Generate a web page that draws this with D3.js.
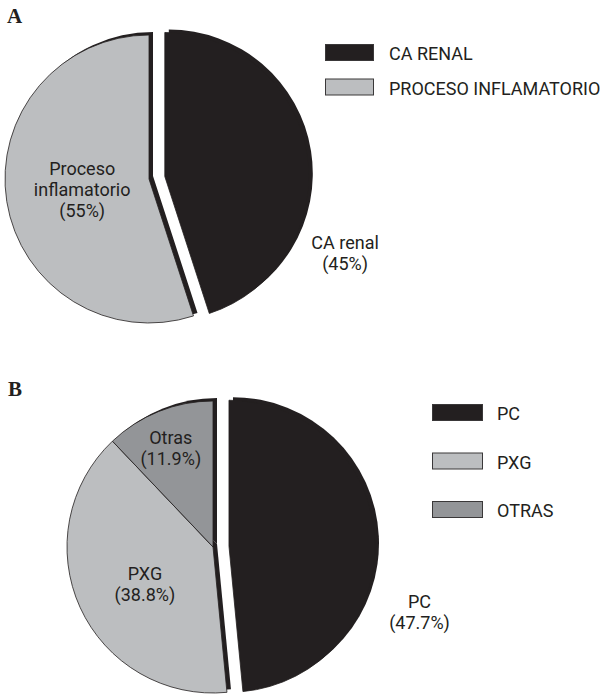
<!DOCTYPE html>
<html>
<head>
<meta charset="utf-8">
<script src="https://cdn.jsdelivr.net/npm/d3@7"></script>
<style>
  html, body { margin: 0; padding: 0; background: #fff; }
  svg { display: block; }
  text { font-family: Roboto, "Liberation Sans", sans-serif; fill: #231f20; }
</style>
</head>
<body>
<script>
// Panel A: diagnosis
const categoriesA = ["CA renal", "Proceso inflamatorio"];
const valuesA = [45, 55];
const legendA = ["CA RENAL", "PROCESO INFLAMATORIO"];
const labelsA = [["CA renal", "(45%)"], ["Proceso", "inflamatorio", "(55%)"]];

// Panel B: type of inflammatory process
const categoriesB = ["PC", "PXG", "Otras"];
const valuesB = [47.7, 38.8, 11.9];
const legendB = ["PC", "PXG", "OTRAS"];
const labelsB = [["PC", "(47.7%)"], ["PXG", "(38.8%)"], ["Otras", "(11.9%)"]];

const W = 606, H = 697;
const svg = d3.select("body").append("svg").attr("width", W).attr("height", H);

const INK = "#231f20";

function drawPie(opts) {
  const { cx, cy, r, values, colors, explode, labels, labelPos } = opts;
  const g = svg.append("g").attr("transform", `translate(${cx},${cy})`);
  const arcs = d3.pie().sort(null).value(d => d)(values);
  const arc = d3.arc().innerRadius(0).outerRadius(r);
  const off = arcs.map((a, i) => {
    const d = explode[i];
    const m = (a.startAngle + a.endAngle) / 2;
    return [Math.sin(m) * d, -Math.cos(m) * d];
  });
  // dark extrusion edge behind each slice
  g.selectAll("path.shadow").data(arcs).join("path")
    .attr("class", "shadow")
    .attr("d", arc)
    .attr("fill", INK)
    .attr("transform", (a, i) => `translate(${off[i][0] + 4},${off[i][1] - 3})`);
  g.selectAll("path.slice").data(arcs).join("path")
    .attr("class", "slice")
    .attr("d", arc)
    .attr("fill", (a, i) => colors[i])
    .attr("stroke", INK)
    .attr("stroke-width", 0.8)
    .attr("stroke-linejoin", "round")
    .attr("transform", (a, i) => `translate(${off[i][0]},${off[i][1]})`);

  // slice labels, placed in polar coordinates around each slice's own centre
  const lh = 21;
  arcs.forEach((a, i) => {
    const [angDeg, rr] = labelPos[i];
    const ang = angDeg * Math.PI / 180;
    const x = off[i][0] + Math.sin(ang) * rr * r;
    const y = off[i][1] - Math.cos(ang) * rr * r;
    const lines = labels[i];
    const first = y - (lines.length - 1) * lh / 2 + 6.5;
    const t = g.append("text").attr("text-anchor", "middle").attr("font-size", 18);
    lines.forEach((ln, k) => {
      t.append("tspan").attr("x", x).attr("y", first + k * lh).text(ln);
    });
  });
}

function drawLegend(items, colors, x, y0, step, w, h, tx) {
  const g = svg.append("g");
  items.forEach((name, i) => {
    const y = y0 + i * step;
    g.append("rect").attr("x", x).attr("y", y).attr("width", w).attr("height", h)
      .attr("fill", colors[i]).attr("stroke", "#3a3839").attr("stroke-width", 1);
    g.append("text").attr("x", tx).attr("y", y + h - 0.5)
      .attr("font-size", 18).text(name);
  });
}

function panelTitle(letter, x, y) {
  svg.append("text").attr("x", x).attr("y", y)
    .style("font-family", "'Liberation Serif', 'DejaVu Serif', serif")
    .attr("font-weight", "bold").attr("font-size", 21).text(letter);
}

const colorsA = [INK, "#bcbec0"];
const colorsB = [INK, "#bcbec0", "#939598"];

panelTitle("A", 7, 23);
drawPie({
  cx: 149, cy: 179, r: 144,
  values: valuesA, colors: colorsA,
  explode: [16, 0],
  labels: labelsA,
  labelPos: [[113, 1.36], [261, 0.47]]
});
drawLegend(legendA, colorsA, 325.5, 44.5, 34.5, 48, 16, 389);

panelTitle("B", 8, 396);
drawPie({
  cx: 213, cy: 547, r: 146,
  values: valuesB, colors: colorsB,
  explode: [16, 0, 0],
  labels: labelsB,
  labelPos: [[109, 1.38], [241.6, 0.53], [337, 0.74]]
});
drawLegend(legendB, colorsB, 432.5, 404.5, 48.5, 50, 16, 497);
</script>
</body>
</html>
